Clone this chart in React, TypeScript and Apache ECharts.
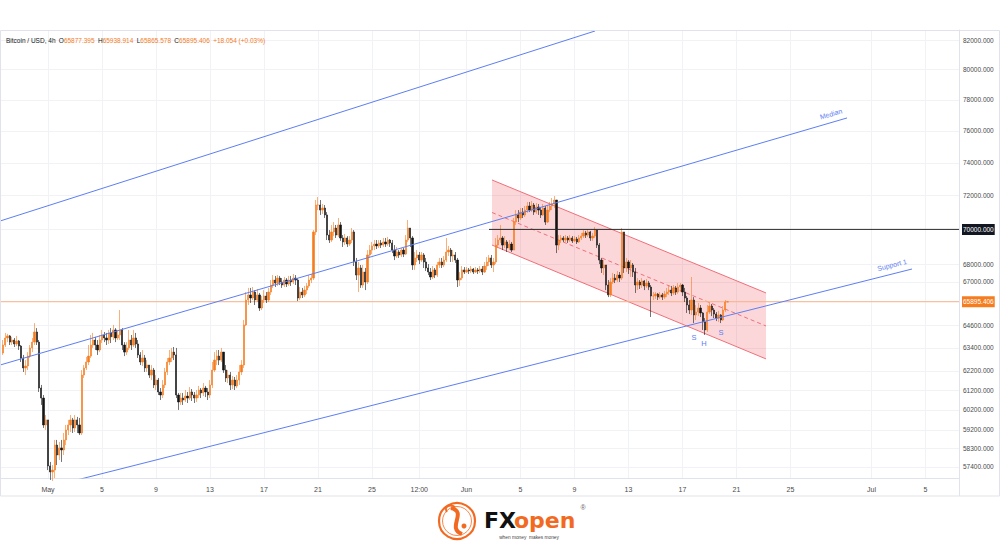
import React, { useEffect, useRef } from "react";
import * as echarts from "echarts";

const HOUR = 3600 * 1000;
const FIRST_CANDLE = Date.UTC(2024, 3, 27, 16);
const CANDLE_STEP = 4 * HOUR;

const firstOpen = 63130;
const closes = [
  63555, 63930, 64040, 63710, 63820, 63610, 63770, 63500, 62870, 62350,
  62450, 62970, 63400, 63710, 64250, 63710, 61310, 60800, 59450, 59700,
  57450, 57160, 57250, 58460, 57975, 58320, 58220, 58710, 59200, 59450,
  59700, 59300, 59700, 59450, 59050, 61980, 62350, 62660, 62970, 63555,
  63820, 63555, 63290, 63820, 64090, 63930, 63820, 64200, 63990, 64360,
  63930, 64090, 64360, 63555, 63180, 63400, 63820, 63555, 63930, 63610,
  63030, 62660, 62870, 62350, 62500, 61980, 62240, 61470, 61720, 61110,
  60955, 61470, 62140, 62660, 62870, 63180, 63030, 60955, 60600, 60800,
  60700, 60900, 60800, 61110, 60955, 60800, 60955, 61210, 61060, 61310,
  61110, 60955, 61470, 62240, 62760, 62970, 62760, 63180, 62240, 61830,
  61980, 61470, 61720, 61420, 61720, 62140, 62500, 64630, 65990, 66270,
  66100, 66430, 65990, 66270, 65550, 65990, 66210, 65990, 66430, 66820,
  67100, 66930, 67210, 66990, 66820, 67100, 66880, 67100, 66990, 67210,
  67100, 66100, 66430, 66270, 66540, 66770, 67100, 67210, 69850, 71440,
  71440, 71140, 71260, 70850, 69670, 69380, 69850, 70080, 69670, 70260,
  69500, 69270, 69500, 69150, 69380, 69850, 68120, 67380, 67780, 66820,
  67550, 66990, 68520, 68800, 69040, 69150, 69040, 69210, 69090, 69270,
  69150, 69380, 69210, 68800, 68460, 68690, 68520, 68800, 68570, 69380,
  70080, 69500, 67950, 68350, 68520, 68230, 68520, 68120, 67780, 67550,
  67270, 67670, 67380, 67950, 68120, 67950, 68230, 68690, 68800, 68460,
  68520, 68230, 67100, 67210, 67670, 67550, 67670, 67610, 67720, 67550,
  67670, 67610, 67720, 67550, 67890, 68120, 68350, 67950, 68120, 69090,
  69380, 69500, 69090, 69270, 68920, 69150, 68800, 70430, 70850, 70670,
  71020, 70850, 71140, 71380, 71140, 71440, 71020, 71320, 71140, 70850,
  71260, 70430, 71140, 71380, 71500, 71740, 69090, 69380, 69500, 69380,
  69500, 69380, 69500, 69330, 69440, 69270, 69500, 69610, 69790, 69670,
  69850, 69500, 69610, 69960, 69090, 68230, 67780, 67950, 66820, 66270,
  66990, 67210, 67100, 67380, 67210, 69850, 67780, 68120, 67780, 67950,
  67550, 66820, 66990, 66820, 67050, 66770, 66930, 66710, 66210, 66210,
  66320, 66150, 66270, 66150, 66320, 66430, 66540, 66380, 66660, 66430,
  66710, 66820, 66430, 66100, 65715, 65440, 65990, 65170, 65330, 65550,
  65280, 64790, 64360, 65330, 65660, 65440, 65220, 65000, 65170, 64900,
  65440, 65877.395, 65895.406,
];
const highs = [
  63820, 64200, 64150, 64090, 63990, 63930, 64040, 63820, 63555, 63030,
  62760, 63180, 63555, 63930, 64730, 64460, 63820, 61470, 60955, 59945,
  59300, 57640, 57490, 58710, 58710, 58610, 58710, 59050, 59450, 59700,
  59945, 59800, 59945, 59850, 59800, 62240, 62500, 62920, 63555, 64090,
  64200, 63990, 63820, 64090, 64360, 64250, 64200, 64360, 64460, 64630,
  64460, 64360, 65440, 64460, 63710, 63710, 64360, 64090, 64360, 64200,
  63820, 63180, 63290, 63030, 62760, 62500, 62500, 62350, 61980, 61830,
  61310, 61720, 62350, 62870, 63290, 63400, 63450, 63400, 61060, 61060,
  61060, 61210, 61110, 61360, 61260, 61110, 61210, 61420, 61310, 61570,
  61420, 61310, 61720, 62660, 63180, 63290, 63290, 63400, 63180, 62500,
  62240, 62140, 61930, 61880, 61980, 62500, 62760, 64900, 66430, 66660,
  66660, 66710, 66540, 66600, 66380, 66210, 66540, 66430, 66660, 67100,
  67380, 67330, 67380, 67330, 67210, 67270, 67210, 67330, 67330, 67440,
  67380, 67210, 66710, 66660, 66770, 66930, 67380, 67440, 69960, 71740,
  71920, 71740, 71500, 71440, 71020, 69960, 70260, 70430, 70260, 70670,
  70430, 69670, 69730, 69610, 69610, 70080, 69960, 68350, 68120, 67950,
  67950, 67780, 68800, 69090, 69270, 69380, 69380, 69380, 69380, 69500,
  69500, 69560, 69440, 69380, 69090, 68980, 68800, 68920, 68920, 69670,
  70550, 70080, 69610, 68690, 68800, 68690, 68690, 68630, 68350, 68000,
  67780, 67890, 67780, 68120, 68350, 68350, 68460, 69500, 69040, 68920,
  68800, 68690, 68350, 67550, 67890, 67830, 67830, 67780, 67890, 67780,
  67830, 67780, 67890, 67890, 68120, 68400, 68520, 68520, 68350, 69500,
  69670, 70260, 69610, 69610, 69380, 69380, 69270, 70670, 71140, 71140,
  71260, 71260, 71380, 71620, 71620, 71680, 71560, 71560, 71500, 71320,
  71500, 71380, 71440, 71620, 71860, 71980, 71620, 69670, 69670, 69610,
  69670, 69610, 69670, 69610, 69610, 69560, 69670, 69790, 69960, 69910,
  70020, 69910, 69790, 70140, 69960, 69210, 68350, 68230, 67950, 67100,
  67210, 67500, 67440, 67610, 67550, 70080, 69790, 68350, 68230, 68230,
  68060, 67780, 67210, 67100, 67210, 67100, 67160, 67050, 66820, 66430,
  66430, 66380, 66430, 66380, 66490, 66660, 66820, 66770, 66820, 66770,
  66930, 66930, 66880, 66660, 66210, 65990, 67270, 66150, 65715, 65825,
  65715, 65330, 65000, 65715, 65880, 65770, 65550, 65330, 65390, 65220,
  65660, 65990, 65938.914,
];
const lows = [
  63030, 63450, 63710, 63555, 63555, 63450, 63500, 63290, 62660, 62140,
  61980, 62240, 62870, 63180, 63555, 63555, 61110, 60450, 59300, 59200,
  57250, 56780, 56730, 56870, 57490, 57730, 57640, 57975, 58460, 58950,
  59100, 59050, 59100, 59050, 58950, 58950, 61830, 62240, 62500, 62870,
  63400, 63290, 63030, 63180, 63660, 63710, 63555, 63610, 63660, 63820,
  63710, 63820, 63820, 63290, 62970, 63030, 63290, 63290, 63450, 63400,
  62870, 62500, 62450, 62140, 62140, 61830, 61720, 61310, 61210, 60955,
  60700, 60800, 61310, 61980, 62500, 62660, 62760, 60800, 60200, 60450,
  60450, 60600, 60550, 60700, 60650, 60550, 60600, 60800, 60800, 60900,
  60850, 60700, 60800, 61310, 62140, 62500, 62500, 62660, 62090, 61620,
  61570, 61210, 61260, 61210, 61310, 61470, 61980, 62350, 64570, 65715,
  65825, 65990, 65715, 65880, 65390, 65440, 65825, 65825, 65880, 66270,
  66660, 66710, 66770, 66820, 66660, 66710, 66710, 66770, 66770, 66880,
  66820, 65935, 65990, 66100, 66150, 66320, 66660, 66930, 67100, 69670,
  71140, 70850, 70910, 70670, 69380, 69210, 69270, 69610, 69500, 69560,
  69330, 68980, 69090, 68980, 69040, 69210, 67890, 67100, 66430, 66660,
  66660, 66540, 66880, 68350, 68570, 68800, 68860, 68920, 68920, 68980,
  68980, 69040, 68980, 68630, 68230, 68350, 68350, 68400, 68400, 68520,
  69270, 68980, 67670, 67670, 68120, 68000, 68120, 67780, 67610, 67380,
  67100, 67160, 67210, 67270, 67780, 67780, 67830, 68120, 68460, 68120,
  68120, 68060, 66710, 66770, 67100, 67440, 67500, 67440, 67500, 67440,
  67500, 67440, 67500, 67380, 67500, 67670, 67890, 67780, 67550, 68000,
  68920, 69210, 68800, 68920, 68690, 68800, 68690, 68800, 70260, 70430,
  70550, 70670, 70730, 70970, 71020, 71020, 70850, 70910, 70850, 70670,
  70790, 70260, 70370, 71020, 71140, 71260, 68630, 68800, 69210, 69270,
  69270, 69210, 69270, 69210, 69270, 69150, 69210, 69380, 69500, 69500,
  69560, 69330, 69330, 69500, 68920, 68000, 67500, 67380, 66540, 66150,
  66150, 66880, 66930, 66990, 66990, 67100, 67500, 67550, 67440, 67270,
  67270, 66380, 66540, 66600, 66660, 66540, 66660, 66540, 65060, 65990,
  66050, 65990, 66050, 65990, 66050, 66150, 66270, 66210, 66270, 66270,
  66320, 66430, 66210, 65880, 65280, 65220, 65170, 64730, 64900, 65110,
  65060, 64360, 64090, 64250, 65220, 65110, 65000, 64840, 64790, 64730,
  64840, 65330, 65865.578,
];

const lastOpen = 65877.395;
const lastHigh = 65938.914;
const lastLow = 65865.578;
const lastClose = 65895.406;
const lastChange = "+18.054 (+0.03%)";

const xTickTimes = [
  Date.UTC(2024, 4, 1), Date.UTC(2024, 4, 5), Date.UTC(2024, 4, 9), Date.UTC(2024, 4, 13),
  Date.UTC(2024, 4, 17), Date.UTC(2024, 4, 21), Date.UTC(2024, 4, 25), Date.UTC(2024, 4, 28, 12),
  Date.UTC(2024, 5, 1), Date.UTC(2024, 5, 5), Date.UTC(2024, 5, 9), Date.UTC(2024, 5, 13),
  Date.UTC(2024, 5, 17), Date.UTC(2024, 5, 21), Date.UTC(2024, 5, 25), Date.UTC(2024, 6, 1),
  Date.UTC(2024, 6, 5),
];
const xTickLabels = ["May", "5", "9", "13", "17", "21", "25", "12:00", "Jun", "5", "9", "13", "17", "21", "25", "Jul", "5"];
const yTicks = [57400, 58300, 59200, 60200, 61200, 62200, 63400, 64600, 67000, 68000, 70000, 72000, 74000, 76000, 78000, 80000, 82000];
const levelPrice = 70000;

const xMin = Date.UTC(2024, 3, 27, 10, 40);
const xMax = Date.UTC(2024, 6, 7, 11, 33);
const yMin = 56872;
const yMax = 82688;

// drawn lines (time, price)
const upperLine = [[Date.UTC(2024, 3, 27, 10, 40), 70490], [Date.UTC(2024, 5, 10, 12, 30), 82620]];
const medianLine = [[Date.UTC(2024, 3, 27, 10, 40), 62500], [Date.UTC(2024, 5, 29, 4, 30), 76830]];
const supportLine = [[Date.UTC(2024, 4, 3, 3, 30), 56780], [Date.UTC(2024, 6, 4, 0, 0), 67720]];
const levelStart = Date.UTC(2024, 5, 2, 16);
const channelTimes = [Date.UTC(2024, 5, 2, 21, 20), Date.UTC(2024, 5, 23, 4, 30)];
const channelTop = [72950, 66380];
const channelMid = [70995, 64573];
const channelBottom = [69090, 62820];

const FONT = "'Liberation Sans', Arial, sans-serif";
const ORANGE = "#f57c1f";
const BLUE = "#5d7ef2";

export default function App() {
  const ref = useRef<HTMLDivElement>(null);
  useEffect(() => {
    if (!ref.current) return;
    const chart = echarts.init(ref.current, null, { renderer: "svg" });

    const candleData = closes.map((c, i) => {
      const o = i === 0 ? firstOpen : i === closes.length - 1 ? lastOpen : closes[i - 1];
      const h = Math.max(highs[i], o, c);
      const l = Math.min(lows[i], o, c);
      return [FIRST_CANDLE + i * CANDLE_STEP, o, c, l, h];
    });

    const labelMap: Record<string, string> = {};
    xTickTimes.forEach((t, i) => (labelMap[String(t)] = xTickLabels[i]));
    const yAll = [...yTicks, lastClose].sort((a, b) => a - b);

    const lineSeries = (data: number[][], color: string, z: number) => ({
      type: "line",
      data,
      showSymbol: false,
      symbol: "none",
      silent: true,
      clip: true,
      z,
      lineStyle: { color, width: 1 },
    });

    const option: any = {
      animation: false,
      backgroundColor: "#ffffff",
      grid: { left: 0, right: 41, top: 30, bottom: 71, containLabel: false },
      xAxis: {
        type: "value",
        min: xMin,
        max: xMax,
        axisLine: { show: true, lineStyle: { color: "#e0e3eb" } },
        axisTick: { show: false, customValues: xTickTimes },
        axisLabel: {
          customValues: xTickTimes,
          formatter: (v: number) => labelMap[String(v)] ?? "",
          fontSize: 7,
          color: "#4a4a4a",
          margin: 8,
          fontFamily: FONT,
        },
        splitLine: { show: true, lineStyle: { color: "#f0f2f6", width: 1 } },
      },
      yAxis: {
        type: "log",
        logBase: 10,
        position: "right",
        min: yMin,
        max: yMax,
        axisLine: { show: true, lineStyle: { color: "#e0e3eb" } },
        axisTick: { show: false, customValues: yAll },
        axisLabel: {
          customValues: yAll,
          margin: 3,
          fontSize: 6.5,
          color: "#4a4a4a",
          fontFamily: FONT,
          formatter: (v: number) => {
            if (Math.abs(v - lastClose) < 0.01) return "{cur|" + lastClose.toFixed(3) + "}";
            if (Math.abs(v - levelPrice) < 0.01) return "{hl|" + levelPrice.toFixed(3) + "}";
            return "{n|" + Number(v).toFixed(3) + "}";
          },
          rich: {
            n: { fontSize: 6.5, color: "#4a4a4a", padding: [0, 1], fontFamily: FONT },
            cur: { fontSize: 6.5, color: "#ffffff", backgroundColor: ORANGE, padding: [2, 1, 2, 1], fontFamily: FONT },
            hl: { fontSize: 6.5, color: "#ffffff", backgroundColor: "#131722", padding: [2, 1, 2, 1], fontFamily: FONT },
          },
        },
        splitLine: { show: true, lineStyle: { color: "#f0f2f6", width: 1 } },
      },
      series: [
        {
          type: "custom",
          z: 1,
          silent: true,
          data: [[channelTimes[0], channelTop[0]]],
          renderItem: (_p: any, api: any) => {
            const tl = api.coord([channelTimes[0], channelTop[0]]);
            const tr = api.coord([channelTimes[1], channelTop[1]]);
            const br = api.coord([channelTimes[1], channelBottom[1]]);
            const bl = api.coord([channelTimes[0], channelBottom[0]]);
            const ml = api.coord([channelTimes[0], channelMid[0]]);
            const mr = api.coord([channelTimes[1], channelMid[1]]);
            const edge = { stroke: "#ef6f79", lineWidth: 1 };
            return {
              type: "group",
              children: [
                { type: "polygon", shape: { points: [tl, tr, br, bl] }, style: { fill: "rgba(242,54,69,0.2)" } },
                { type: "line", shape: { x1: tl[0], y1: tl[1], x2: tr[0], y2: tr[1] }, style: edge },
                { type: "line", shape: { x1: bl[0], y1: bl[1], x2: br[0], y2: br[1] }, style: edge },
                { type: "line", shape: { x1: ml[0], y1: ml[1], x2: mr[0], y2: mr[1] }, style: { stroke: "#ef6f79", lineWidth: 1, lineDash: [4, 3] } },
              ],
            };
          },
        },
        lineSeries([[xMin, lastClose], [xMax, lastClose]], "#f9b489", 2),
        lineSeries([[levelStart, levelPrice], [xMax, levelPrice]], "#2a2a2a", 4),
        {
          type: "candlestick",
          data: candleData,
          encode: { x: 0, y: [1, 2, 3, 4] },
          barWidth: 1.7,
          z: 3,
          silent: true,
          itemStyle: {
            color: ORANGE,
            color0: "#151515",
            borderColor: ORANGE,
            borderColor0: "#151515",
            borderWidth: 0.6,
          },
        },
        lineSeries(upperLine, BLUE, 5),
        lineSeries(medianLine, BLUE, 5),
        lineSeries(supportLine, BLUE, 5),
      ],
      graphic: [
        {
          type: "text",
          x: 6,
          y: 40,
          z: 100,
          style: {
            text:
              "{n|Bitcoin / USD, 4h} {k|O}{v|" + lastOpen.toFixed(3) + "} {k|H}{v|" + lastHigh.toFixed(3) +
              "} {k|L}{v|" + lastLow.toFixed(3) + "} {k|C}{v|" + lastClose.toFixed(3) + "} {v|" + lastChange + "}",
            verticalAlign: "middle",
            rich: {
              n: { fontSize: 6.5, fill: "#131722", fontFamily: FONT },
              k: { fontSize: 6.5, fill: "#131722", fontFamily: FONT },
              v: { fontSize: 6.5, fill: ORANGE, fontFamily: FONT },
            },
          },
        },
        { type: "rect", z: 50, silent: true, shape: { x: 0.5, y: 30.5, width: 999, height: 465.5 }, style: { fill: "none", stroke: "#e0e3eb", lineWidth: 1 } },
        { type: "line", z: 50, silent: true, shape: { x1: 959.5, y1: 30, x2: 959.5, y2: 496 }, style: { stroke: "#e0e3eb", lineWidth: 1 } },
        { type: "text", x: 831, y: 114, rotation: 0.2836, z: 60, style: { text: "Median", fill: BLUE, fontSize: 7, fontFamily: FONT, align: "center", verticalAlign: "middle" } },
        { type: "text", x: 892, y: 265, rotation: 0.2475, z: 60, style: { text: "Support 1", fill: BLUE, fontSize: 7, fontFamily: FONT, align: "center", verticalAlign: "middle" } },
        { type: "text", x: 694, y: 337, z: 60, style: { text: "S", fill: BLUE, fontSize: 7.5, fontFamily: FONT, align: "center", verticalAlign: "middle" } },
        { type: "text", x: 704, y: 343, z: 60, style: { text: "H", fill: BLUE, fontSize: 7.5, fontFamily: FONT, align: "center", verticalAlign: "middle" } },
        { type: "text", x: 721, y: 332, z: 60, style: { text: "S", fill: BLUE, fontSize: 7.5, fontFamily: FONT, align: "center", verticalAlign: "middle" } },
        { type: "circle", z: 60, shape: { cx: 457, cy: 521, r: 18 }, style: { fill: "#ffffff", stroke: "#f26a21", lineWidth: 2.2 } },
        { type: "circle", z: 60, shape: { cx: 457, cy: 521, r: 14.5 }, style: { fill: "none", stroke: "#f26a21", lineWidth: 0.8 } },
        { type: "bezierCurve", z: 61, shape: { x1: 451, y1: 508, cpx1: 468, cpy1: 512, cpx2: 446, cpy2: 528, x2: 462, y2: 534 }, style: { stroke: "#f26a21", lineWidth: 4, fill: "none" } },
        { type: "bezierCurve", z: 61, shape: { x1: 447, y1: 512, cpx1: 443, cpy1: 506, cpx2: 451, cpy2: 504, x2: 455, y2: 507 }, style: { stroke: "#f26a21", lineWidth: 1.8, fill: "none" } },
        { type: "circle", z: 61, shape: { cx: 464, cy: 526, r: 2.5 }, style: { fill: "#f26a21" } },
        { type: "text", x: 484, y: 531, z: 60, style: { text: "FX", fill: "#111111", fontSize: 22, fontWeight: "bold", fontFamily: "'DejaVu Sans', sans-serif", verticalAlign: "bottom" } },
        { type: "text", x: 514, y: 531, z: 60, style: { text: "open", fill: "#f26a21", fontSize: 22, fontWeight: "bold", fontFamily: "'DejaVu Sans', sans-serif", verticalAlign: "bottom" } },
        { type: "text", x: 583, y: 507, z: 60, style: { text: "®", fill: "#666666", fontSize: 7, fontFamily: FONT, align: "center", verticalAlign: "middle" } },
        { type: "text", x: 529, y: 537, z: 60, style: { text: "when money  makes money", fill: "#444444", fontSize: 4.8, fontFamily: FONT, align: "center", verticalAlign: "middle" } },
      ],
    };

    chart.setOption(option);
    return () => chart.dispose();
  }, []);

  return (
    <div
      ref={ref}
      style={{ position: "fixed", left: 0, top: 0, width: 1000, height: 549, background: "#ffffff" }}
    />
  );
}
